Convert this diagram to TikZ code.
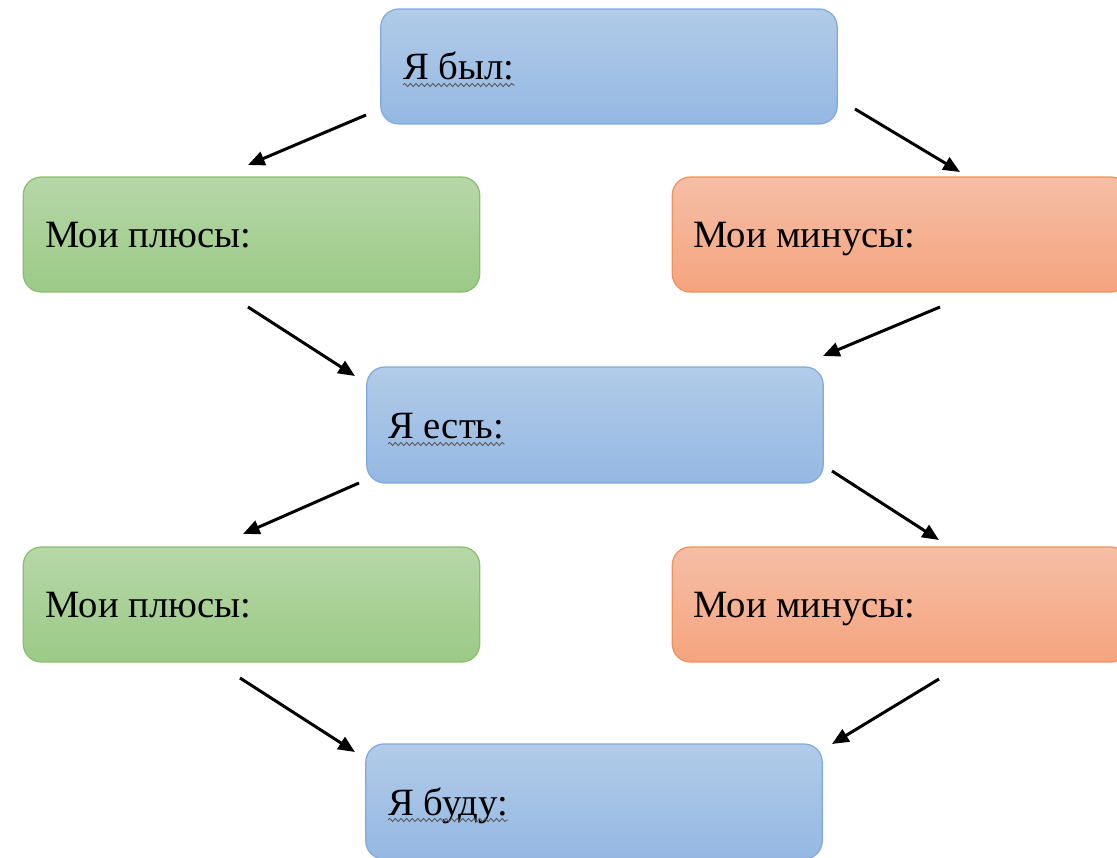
\documentclass[tikz,border=0pt]{standalone}
\usepackage{fontspec}
\setmainfont{Liberation Serif}
\usetikzlibrary{arrows.meta,decorations.pathmorphing}
\definecolor{bluetop}{HTML}{B1CBE8}
\definecolor{bluebot}{HTML}{95B8E3}
\definecolor{blueline}{HTML}{7FAADC}
\definecolor{greentop}{HTML}{B6D7A8}
\definecolor{greenbot}{HTML}{9CCA86}
\definecolor{greenline}{HTML}{88BE6C}
\definecolor{orangetop}{HTML}{F5BEA6}
\definecolor{orangebot}{HTML}{F5A47E}
\definecolor{orangeline}{HTML}{F0915C}
\tikzset{
  box/.style={rounded corners=0.36cm, line width=0.7pt, inner sep=0pt,
    minimum width=9.13cm, minimum height=2.3cm},
  bluebox/.style={box, draw=blueline, top color=bluetop, bottom color=bluebot},
  greenbox/.style={box, draw=greenline, top color=greentop, bottom color=greenbot},
  orangebox/.style={box, draw=orangeline, top color=orangetop, bottom color=orangebot},
  lbl/.style={anchor=base west, inner sep=0pt, font=\fontsize{22}{26}\selectfont},
  arr/.style={line width=1.7pt, -{Triangle[length=9.5pt,width=8pt]}},
  wavy/.style={draw=black!65, line width=0.5pt, decorate,
    decoration={snake, amplitude=0.9pt, segment length=3.2pt}}
}
\begin{document}
\begin{tikzpicture}[x=0.02cm, y=-0.02cm]
\useasboundingbox (0,0) rectangle (1117,858);
% boxes
\node[bluebox] (top) at (609,66.5) {};
\node[greenbox] (g1) at (251.5,234.5) {};
\node[orangebox] (o1) at (900.5,234.5) {};
\node[bluebox, minimum height=2.32cm] (mid) at (595,425) {};
\node[greenbox] (g2) at (251.5,604.5) {};
\node[orangebox] (o2) at (900.5,604.5) {};
\node[bluebox] (bot) at (594,801.5) {};
% labels
\node[lbl] (toplbl) at (403,80) {Я был:};
\node[lbl] (g1lbl) at (45,248) {Мои плюсы:};
\node[lbl] (o1lbl) at (693,248) {Мои минусы:};
\node[lbl] (midlbl) at (388,439) {Я есть:};
\node[lbl] (g2lbl) at (45,618) {Мои плюсы:};
\node[lbl] (o2lbl) at (693,618) {Мои минусы:};
\node[lbl] (botlbl) at (388,815) {Я буду:};
% spell-check underlines
\draw[wavy] ([shift={(0,5)}]toplbl.base west) -- ([shift={(0,5)}]toplbl.base east);
\draw[wavy] ([shift={(0,5)}]midlbl.base west) -- ([shift={(0,5)}]midlbl.base east);
\draw[wavy] ([shift={(0,5)}]botlbl.base west) -- ([shift={(0,5)}]botlbl.base east);
% arrow ends
\coordinate (a1s) at (366,115); \coordinate (a1e) at (248,165);
\coordinate (a2s) at (855,109); \coordinate (a2e) at (960,172);
\coordinate (a3s) at (248,307); \coordinate (a3e) at (355,376);
\coordinate (a4s) at (940,307); \coordinate (a4e) at (823,356);
\coordinate (a5s) at (359,483); \coordinate (a5e) at (243,534);
\coordinate (a6s) at (832,471); \coordinate (a6e) at (939,540);
\coordinate (a7s) at (240,678); \coordinate (a7e) at (355,752);
\coordinate (a8s) at (939,679); \coordinate (a8e) at (832,744);
\draw[arr] (a1s) -- (a1e);
\draw[arr] (a2s) -- (a2e);
\draw[arr] (a3s) -- (a3e);
\draw[arr] (a4s) -- (a4e);
\draw[arr] (a5s) -- (a5e);
\draw[arr] (a6s) -- (a6e);
\draw[arr] (a7s) -- (a7e);
\draw[arr] (a8s) -- (a8e);
\end{tikzpicture}
\end{document}
